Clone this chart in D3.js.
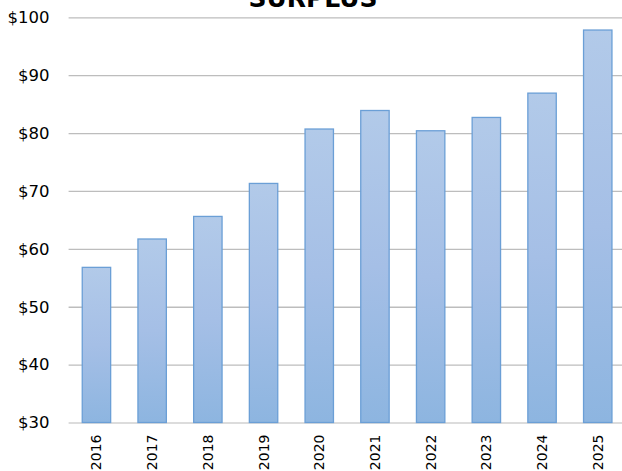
<!DOCTYPE html>
<html>
<head>
<meta charset="utf-8">
<script src="https://cdn.jsdelivr.net/npm/d3@7"></script>
<style>
  html, body { margin: 0; padding: 0; background: #fff; overflow: hidden; }
</style>
</head>
<body>
<div id="chart"></div>
<script>
const years = ["2016", "2017", "2018", "2019", "2020", "2021", "2022", "2023", "2024", "2025"];
const surplus = [56.8, 61.7, 65.6, 71.3, 80.7, 83.9, 80.4, 82.7, 86.9, 97.8];
const yTicks = [30, 40, 50, 60, 70, 80, 90, 100];

const width = 622;
const height = 471;
const margin = { top: 17.3, right: -3.6, bottom: 48.5, left: 68.6 };

const data = years.map((yr, i) => ({ year: yr, value: surplus[i] }));

const x = d3.scaleBand()
    .domain(years)
    .range([margin.left, width - margin.right])
    .paddingInner(0.49)
    .paddingOuter(0.245);

const y = d3.scaleLinear()
    .domain([30, 100])
    .range([height - margin.bottom, margin.top]);

const svg = d3.select('#chart')
    .append('svg')
    .attr('width', width)
    .attr('height', height);

// bar gradient
const grad = svg.append('defs')
    .append('linearGradient')
    .attr('id', 'barGrad')
    .attr('x1', 0).attr('y1', 0)
    .attr('x2', 0).attr('y2', 1);
grad.append('stop').attr('offset', '0%').attr('stop-color', '#b2cae9');
grad.append('stop').attr('offset', '50%').attr('stop-color', '#a5bfe6');
grad.append('stop').attr('offset', '100%').attr('stop-color', '#8db5e0');

// y axis + gridlines
const yAxis = svg.append('g')
    .attr('class', 'y-axis')
    .attr('transform', `translate(${margin.left}, 0)`)
    .call(d3.axisLeft(y)
        .tickValues(yTicks)
        .tickSize(-(width - margin.right - margin.left))
        .tickPadding(19)
        .tickFormat(d => '$' + d));

yAxis.select('.domain').remove();
yAxis.selectAll('.tick line')
    .attr('stroke', '#bdbdbd')
    .attr('stroke-width', 1.3);
yAxis.selectAll('.tick text')
    .attr('font-family', 'DejaVu Sans, sans-serif')
    .attr('font-size', '16.5px')
    .attr('fill', '#000');
yAxis.selectAll('.tick')
    .filter(d => d === 30)
    .select('line')
    .attr('stroke', '#d0d0d0');

// x axis labels
const xAxis = svg.append('g')
    .attr('class', 'x-axis')
    .attr('transform', `translate(0, ${height - margin.bottom})`)
    .call(d3.axisBottom(x).tickSize(0).tickPadding(0));

xAxis.select('.domain').remove();
xAxis.selectAll('.tick text')
    .attr('font-family', 'DejaVu Sans, sans-serif')
    .attr('font-size', '14px')
    .attr('fill', '#000')
    .attr('transform', 'rotate(-90)')
    .attr('x', -12)
    .attr('y', 0)
    .attr('dy', '0.36em')
    .style('text-anchor', 'end');

// bars
svg.selectAll('rect.bar')
    .data(data)
    .join('rect')
    .attr('class', 'bar')
    .attr('x', d => x(d.year))
    .attr('y', d => y(d.value))
    .attr('width', x.bandwidth())
    .attr('height', d => y(30) - y(d.value))
    .attr('fill', 'url(#barGrad)')
    .attr('stroke', '#6b9fd6')
    .attr('stroke-width', 1.3);

// title (cut off at top like the original)
svg.append('text')
    .attr('x', 313)
    .attr('y', 7)
    .attr('text-anchor', 'middle')
    .attr('font-family', 'DejaVu Sans, sans-serif')
    .attr('font-weight', 'bold')
    .attr('font-size', '25px')
    .attr('fill', '#000')
    .text('SURPLUS');
</script>
</body>
</html>
